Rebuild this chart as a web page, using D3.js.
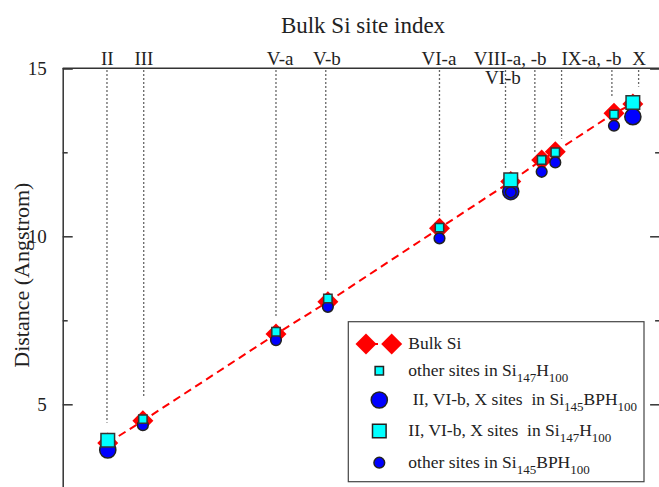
<!DOCTYPE html>
<html>
<head>
<meta charset="utf-8">
<script src="https://cdn.jsdelivr.net/npm/d3@7"></script>
<style>
  body { margin: 0; background: #fff; }
  svg text, svg tspan { font-family: "Liberation Serif", "DejaVu Serif", serif; fill: #222; }
</style>
</head>
<body>
<div id="chart"></div>
<script>
// site positions (bulk distance, Angstrom) and distances
const sites      = ["II", "III", "V-a", "V-b", "VI-a", "VI-b", "VIII-a", "VIII-b", "IX", "X"]
const siteX      = [3.86, 4.53, 7.07, 8.06, 10.19, 11.55, 12.14, 12.40, 13.52, 13.88]
const bulkSi     = [3.85, 4.51, 7.09, 8.05, 10.24, 11.63, 12.27, 12.52, 13.66, 13.94]
const siH        = [3.93, 4.56, 7.16, 8.15, 10.26, 11.68, 12.27, 12.50, 13.63, 13.98]
const siBPH      = [3.64, 4.38, 6.91, 7.90, 9.94, 11.33, 11.92, 12.20, 13.29, 13.56]
const bigSites   = ["II", "VI-b", "X"]
const extraSmallBPH = [{x: 11.55, y: 11.31}]

// dotted guides from the top axis and the site labels
const guideX     = [3.845, 4.546, 7.07, 8.02, 10.19, 11.45, 12.01, 12.52, 13.48, 13.99]
const guideEnd   = [4.45, 5.19, 7.61, 8.64, 10.58, 11.97, 12.49, 12.9, 14.15, 14.45]
const topLabels  = ["II", "III", "V-a", "V-b", "VI-a", "VIII-a, -b", "IX-a, -b", "X"]
const topLabelX  = [3.85, 4.55, 7.15, 8.04, 10.18, 11.54, 13.09, 14.0]
const yMajor     = [5, 10, 15]
const yMinor     = [7.5, 12.5]

const width = 659, height = 487
const serif = "Liberation Serif"
const x = d3.scaleLinear().domain([3, 14.4]).range([62.7, 660.1])
const y = d3.scaleLinear().domain([2.5, 15]).range([488.3, 68.3])

const svg = d3.select("#chart").append("svg")
    .attr("width", width)
    .attr("height", height)

// frame
const frame = svg.append("g").attr("class", "frame")
frame.append("g")
    .attr("transform", `translate(${x.range()[0]},0)`)
    .call(d3.axisLeft(y).tickValues(yMajor).tickSize(-10).tickPadding(16).tickFormat(d3.format("d")))
    .call(g => g.selectAll(".tick text").attr("font-size", 19).attr("font-family", serif).attr("fill", "#222"))
frame.append("g")
    .attr("transform", `translate(${x.range()[0]},0)`)
    .call(d3.axisLeft(y).tickValues(yMinor).tickSize(-5).tickFormat(""))
    .call(g => g.select(".domain").remove())
frame.append("g")
    .attr("transform", `translate(${x.range()[1]},0)`)
    .call(d3.axisRight(y).tickValues(yMajor).tickSize(-10).tickFormat(""))
frame.append("g")
    .attr("transform", `translate(${x.range()[1]},0)`)
    .call(d3.axisRight(y).tickValues(yMinor).tickSize(-5).tickFormat(""))
    .call(g => g.select(".domain").remove())
frame.append("line")
    .attr("x1", x.range()[0]).attr("x2", x.range()[1])
    .attr("y1", y(15)).attr("y2", y(15))
frame.selectAll("path.domain, line").attr("stroke", "#333").attr("stroke-width", 1.5)

// dotted guides
svg.append("g").selectAll("line")
    .data(guideX)
    .join("line")
    .attr("x1", d => x(d)).attr("x2", d => x(d))
    .attr("y1", y(15) + 2).attr("y2", (d, i) => y(guideEnd[i]))
    .attr("stroke", "#333").attr("stroke-width", 1.3)
    .attr("stroke-dasharray", "1.4,2.6")

// labels
svg.append("g").selectAll("text")
    .data(topLabels)
    .join("text")
    .attr("x", (d, i) => x(topLabelX[i]))
    .attr("y", 65)
    .attr("text-anchor", "middle")
    .attr("font-family", serif)
    .attr("font-size", 19)
    .text(d => d)
svg.append("text")
    .attr("x", x(11.4)).attr("y", 84)
    .attr("text-anchor", "middle").attr("font-size", 19).attr("font-family", serif)
    .text("VI-b")
svg.append("text")
    .attr("x", 363).attr("y", 33)
    .attr("text-anchor", "middle").attr("font-size", 23).attr("font-family", serif)
    .text("Bulk Si site index")
svg.append("text")
    .attr("transform", `translate(29,${(y(15) + 482) / 2}) rotate(-90)`)
    .attr("text-anchor", "middle").attr("font-size", 22).attr("font-family", serif)
    .text("Distance (Angstrom)")

// markers
const diamond = d3.symbol().type(d3.symbolSquare).size(220)
const smallSq = d3.symbol().type(d3.symbolSquare).size(70)
const bigSq = d3.symbol().type(d3.symbolSquare).size(185)
const bigCirc = d3.symbol().type(d3.symbolCircle).size(205)
const smallCirc = d3.symbol().type(d3.symbolCircle).size(90)

const pts = sites.map((s, i) => ({site: s, x: siteX[i], bulk: bulkSi[i], h: siH[i], bph: siBPH[i], big: bigSites.includes(s)}))

const line = d3.line().x(d => x(d.x)).y(d => y(d.bulk))
svg.append("path")
    .datum(pts)
    .attr("d", line)
    .attr("fill", "none")
    .attr("stroke", "#ff0000").attr("stroke-width", 2)
    .attr("stroke-dasharray", "8,5")

svg.append("g").selectAll("path")
    .data(pts)
    .join("path")
    .attr("d", diamond)
    .attr("transform", d => `translate(${x(d.x)},${y(d.bulk)}) rotate(45)`)
    .attr("fill", "#ff0000")

svg.append("g").selectAll("path")
    .data(pts)
    .join("path")
    .attr("d", d => d.big ? bigCirc() : smallCirc())
    .attr("transform", d => `translate(${x(d.x)},${y(d.bph)})`)
    .attr("fill", "#0000ff").attr("stroke", "#222").attr("stroke-width", 1.5)

svg.append("g").selectAll("path")
    .data(extraSmallBPH)
    .join("path")
    .attr("d", smallCirc)
    .attr("transform", d => `translate(${x(d.x)},${y(d.y)})`)
    .attr("fill", "#0000ff").attr("stroke", "#222").attr("stroke-width", 1.5)

svg.append("g").selectAll("path")
    .data(pts)
    .join("path")
    .attr("d", d => d.big ? bigSq() : smallSq())
    .attr("transform", d => `translate(${x(d.x)},${y(d.h)})`)
    .attr("fill", "#00ffff").attr("stroke", "#333").attr("stroke-width", 1.5)

// legend
const legend = svg.append("g").attr("transform", "translate(348.3,321.7)")
legend.append("rect")
    .attr("width", 295.7).attr("height", 160)
    .attr("fill", "#fff").attr("stroke", "#444").attr("stroke-width", 1.2)

const rows = [
    {cy: 22.3, parts: [["Bulk Si", 0]]},
    {cy: 49, parts: [["other sites in Si", 0], ["147", 1], ["H", 0], ["100", 1]], mark: smallSq, fill: "#00ffff"},
    {cy: 78.3, parts: [[" II, VI-b, X sites  in Si", 0], ["145", 1], ["BPH", 0], ["100", 1]], mark: bigCirc, fill: "#0000ff"},
    {cy: 109.3, parts: [["II, VI-b, X sites  in Si", 0], ["147", 1], ["H", 0], ["100", 1]], mark: bigSq, fill: "#00ffff"},
    {cy: 141, parts: [["other sites in Si", 0], ["145", 1], ["BPH", 0], ["100", 1]], mark: smallCirc, fill: "#0000ff"}
]

legend.append("line")
    .attr("x1", 17.7).attr("x2", 43.4).attr("y1", 22.3).attr("y2", 22.3)
    .attr("stroke", "#ff0000").attr("stroke-width", 2).attr("stroke-dasharray", "8,5").attr("stroke-dashoffset", -4)
legend.selectAll("path.dia")
    .data([17.7, 43.4])
    .join("path")
    .attr("class", "dia")
    .attr("d", diamond)
    .attr("transform", d => `translate(${d},22.3) rotate(45)`)
    .attr("fill", "#ff0000")

rows.forEach(r => {
    if (r.mark) {
        legend.append("path")
            .attr("d", r.mark)
            .attr("transform", `translate(31,${r.cy})`)
            .attr("fill", r.fill).attr("stroke", "#222").attr("stroke-width", 1.5)
    }
    const t = legend.append("text")
        .attr("x", 60).attr("y", r.cy + 5.5)
        .attr("font-family", serif)
        .attr("font-size", 17.5)
        .attr("xml:space", "preserve")
        .style("white-space", "pre")
    r.parts.forEach(([s, sub], j) => {
        const span = t.append("tspan").attr("font-family", serif).text(s)
        if (sub) span.attr("font-size", 13).attr("dy", 6)
        else if (j > 0) span.attr("dy", -6)
    })
})
</script>
</body>
</html>
